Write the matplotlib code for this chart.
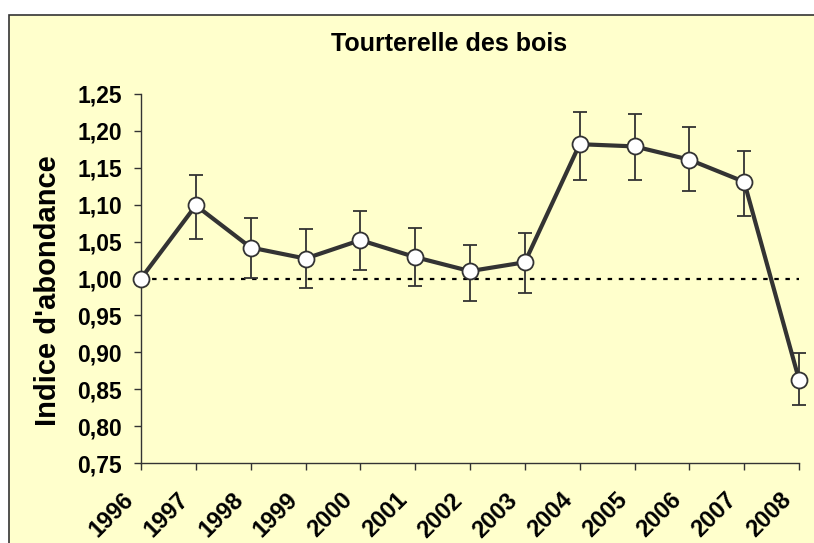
import matplotlib
matplotlib.use("Agg")
import matplotlib.pyplot as plt
from matplotlib.patches import Rectangle

plt.rcParams['font.family'] = ['Liberation Sans', 'DejaVu Sans']
plt.rcParams['font.weight'] = 'bold'

years = [1996, 1997, 1998, 1999, 2000, 2001, 2002, 2003, 2004, 2005, 2006, 2007, 2008]
index = [1.000, 1.099, 1.042, 1.027, 1.052, 1.029, 1.010, 1.022, 1.182, 1.179, 1.161, 1.131, 0.863]
upper = [1.000, 1.140, 1.082, 1.067, 1.092, 1.069, 1.046, 1.061, 1.226, 1.223, 1.205, 1.173, 0.899]
lower = [1.000, 1.054, 1.001, 0.987, 1.012, 0.990, 0.969, 0.981, 1.133, 1.133, 1.118, 1.085, 0.828]
yticks = [0.75, 0.80, 0.85, 0.90, 0.95, 1.00, 1.05, 1.10, 1.15, 1.20, 1.25]
ytick_labels = ["0,75", "0,80", "0,85", "0,90", "0,95", "1,00", "1,05", "1,10", "1,15", "1,20", "1,25"]
title = "Tourterelle des bois"
ylabel = "Indice d'abondance"

bg = "#FFFFCC"
dark = "#333333"

W, H = 814, 543
fig = plt.figure(figsize=(W / 100, H / 100), dpi=100, facecolor="white")

# outer chart frame
fig.patches.append(Rectangle((9 / W, -0.05), 1.1, 1 - 15 / H + 0.05,
                             transform=fig.transFigure, facecolor=bg,
                             edgecolor=dark, linewidth=1.2, zorder=-5))

ax = fig.add_axes([141 / W, 1 - 463 / H, (799 - 141) / W, (463 - 94) / H])
ax.set_zorder(1)
ax.set_facecolor("none")
ax.set_xlim(1996, 2008)
ax.set_ylim(0.75, 1.25)

# reference line at 1.00
ax.plot([1996, 2008], [1.0, 1.0], color="black", linewidth=1.6,
        dashes=(2.0, 3.0), zorder=1, clip_on=False)

# error bars
yerr_low = [i - l for i, l in zip(index, lower)]
yerr_up = [u - i for i, u in zip(index, upper)]
ax.errorbar(years, index, yerr=[yerr_low, yerr_up], fmt="none",
            ecolor=dark, elinewidth=1.3, capsize=4.8, capthick=1.3,
            zorder=2, clip_on=False)

ax.plot(years, index, color=dark, linewidth=3.0, zorder=3, clip_on=False)
ax.plot(years, index, linestyle="none", marker="o", markersize=11.5,
        markerfacecolor="white", markeredgecolor=dark, markeredgewidth=1.3,
        zorder=4, clip_on=False)

for s in ["top", "right"]:
    ax.spines[s].set_visible(False)
for s in ["left", "bottom"]:
    ax.spines[s].set_color(dark)
    ax.spines[s].set_linewidth(1.0)

ax.set_yticks(yticks)
ax.set_yticklabels(ytick_labels, fontsize=16.5, fontweight="bold")
ax.set_xticks(years)
ax.set_xticklabels([])
ax.tick_params(axis="y", direction="out", length=5, width=1.0, color=dark, pad=8.6)
ax.tick_params(axis="x", direction="out", length=5, width=1.0, color=dark)

# rotated year labels
for y in years:
    ax.annotate(str(y), xy=(y, 0), xycoords=ax.get_xaxis_transform(),
                xytext=(-8.0, -24.2), textcoords="offset points",
                rotation=45, ha="right", va="center", rotation_mode="anchor",
                fontsize=17, fontweight="bold", annotation_clip=False)

fig.text(48 / W, 1 - 291 / H, ylabel, rotation=90, fontsize=21, fontweight="bold",
         ha="center", va="center")
fig.text(449 / W, 1 - 44 / H, title, fontsize=18, fontweight="bold",
         ha="center", va="center")

fig.savefig("out.png", dpi=100, facecolor="white")
